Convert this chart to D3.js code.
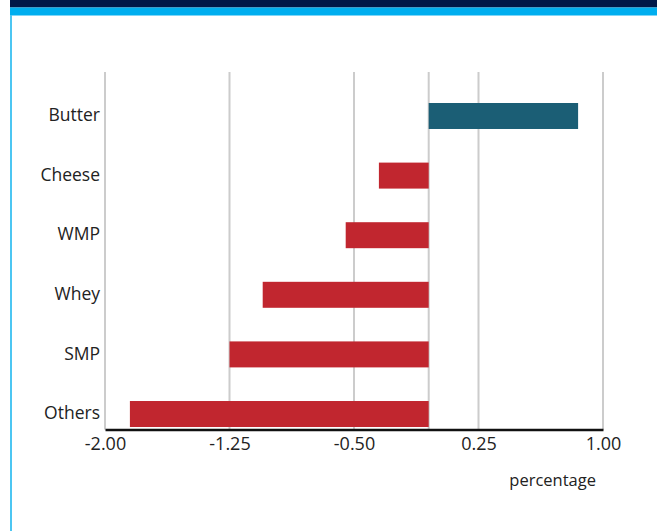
<!DOCTYPE html>
<html>
<head>
<meta charset="utf-8">
<script src="https://cdn.jsdelivr.net/npm/d3@7"></script>
<style>
  html, body { margin: 0; padding: 0; background: #fff; }
  svg { display: block; }
  text { font-family: "Open Sans", "Noto Sans", sans-serif; fill: #222; }
</style>
</head>
<body>
<script>
// Change in dairy product values, percentage
const categories = ["Butter", "Cheese", "WMP", "Whey", "SMP", "Others"];
const values = [0.85, -0.35, -0.55, -1.05, -1.25, -1.85];
const baseline = -0.05;
const tickValues = [-2.0, -1.25, -0.5, 0.25, 1.0];
const tickLabels = ["-2.00", "-1.25", "-0.50", "0.25", "1.00"];
const axisTitle = "percentage";

const W = 657, H = 531;
const svg = d3.select("body").append("svg").attr("width", W).attr("height", H);

// header bands and frame
svg.append("rect").attr("x", 10).attr("y", 0).attr("width", W - 10).attr("height", 7.5).attr("fill", "#001848");
svg.append("rect").attr("x", 10).attr("y", 7.5).attr("width", W - 10).attr("height", 8).attr("fill", "#00aeef");
svg.append("rect").attr("x", 10).attr("y", 15).attr("width", 2).attr("height", H - 15).attr("fill", "#4cc6f2");

const x = d3.scaleLinear().domain([-2, 1]).range([105, 603]);
const y = d3.scaleBand().domain(categories).range([103, 427]).paddingInner(0.564).paddingOuter(0);

const gridTop = 72, axisY = 429.5;

// vertical gridlines (ticks plus the baseline)
svg.append("g").selectAll("line")
  .data(tickValues.concat([baseline]))
  .join("line")
  .attr("x1", d => x(d)).attr("x2", d => x(d))
  .attr("y1", gridTop).attr("y2", axisY)
  .attr("stroke", "#cccccc").attr("stroke-width", 2);

// bars
svg.append("g").selectAll("rect")
  .data(categories.map((c, i) => ({ c, v: values[i] })))
  .join("rect")
  .attr("x", d => x(Math.min(d.v, baseline)))
  .attr("width", d => Math.abs(x(d.v) - x(baseline)))
  .attr("y", d => y(d.c))
  .attr("height", y.bandwidth())
  .attr("fill", d => d.v >= 0 ? "#1b5e75" : "#c1262f");

// x axis
const xAxis = d3.axisBottom(x)
  .tickValues(tickValues)
  .tickFormat((d, i) => tickLabels[i])
  .tickSize(0)
  .tickPadding(8);
const gx = svg.append("g").attr("transform", `translate(0,${axisY})`).call(xAxis);
gx.select(".domain").attr("stroke", "#111").attr("stroke-width", 2.5);
gx.selectAll("text").attr("font-size", 18).attr("fill", "#111")
  .style("font-family", "'Open Sans', 'Noto Sans', sans-serif");

// category labels
svg.append("g").selectAll("text")
  .data(categories)
  .join("text")
  .attr("x", 100)
  .attr("y", d => y(d) + y.bandwidth() / 2)
  .attr("dy", "0.3em")
  .attr("text-anchor", "end")
  .attr("font-size", 17.5)
  .text(d => d);

svg.append("text")
  .attr("x", 596).attr("y", 486)
  .attr("text-anchor", "end")
  .attr("font-size", 16.5)
  .text(axisTitle);
</script>
</body>
</html>
